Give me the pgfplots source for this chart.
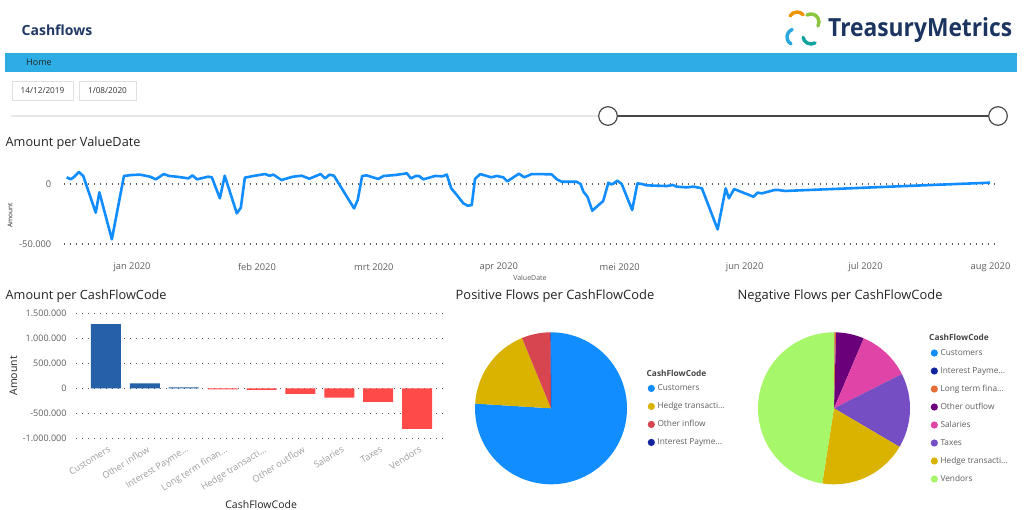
\documentclass[border=0pt]{standalone}
\usepackage{pgfplots}
\pgfplotsset{compat=1.18}
\usepackage{fontspec}
\setmainfont{Open Sans}

\definecolor{titletext}{HTML}{252423}
\definecolor{tickgray}{HTML}{605E5C}
\definecolor{lightlab}{HTML}{A19F9D}
\definecolor{navy}{HTML}{1F3864}
\definecolor{logonavy}{HTML}{1B3560}
\definecolor{band}{HTML}{2EADE4}
\definecolor{lineblue}{HTML}{118DFF}
\definecolor{barblue}{HTML}{2660A8}
\definecolor{barred}{HTML}{FF4A4A}
\definecolor{gridc}{HTML}{5A5A5A}
\definecolor{cCust}{HTML}{118DFF}
\definecolor{cInt}{HTML}{12239E}
\definecolor{cLT}{HTML}{E66C37}
\definecolor{cOO}{HTML}{6B007B}
\definecolor{cSal}{HTML}{E044A7}
\definecolor{cTax}{HTML}{744EC2}
\definecolor{cHedge}{HTML}{D9B300}
\definecolor{cOI}{HTML}{D64550}
\definecolor{cVend}{HTML}{A6F76A}
\definecolor{lgOrange}{HTML}{F39200}
\definecolor{lgGreen}{HTML}{8CC63F}
\definecolor{lgBlue}{HTML}{29A8E0}
\definecolor{lgTeal}{HTML}{0FA3A0}

% pie builder: list of value/colour/name, slices clockwise from 12 o'clock
\newcommand\buildpie[1]{%
  \gdef\piecmds{}\gdef\ptot{0}\gdef\pcum{90}%
  \foreach \pv/\pc/\pn in {#1}{\pgfmathsetmacro\ptmp{\ptot+\pv}\xdef\ptot{\ptmp}}%
  \foreach \pv/\pc/\pn in {#1}{%
    \pgfmathsetmacro\pspan{360*(\pv/\ptot)}%
    \pgfmathtruncatemacro\pnst{max(1,ceil(\pspan/3))}%
    \xdef\ppts{(0,0) (\pcum,1)}%
    \foreach \k in {1,...,\pnst}{%
      \pgfmathsetmacro\pang{\pcum-\pspan*(\k/\pnst)}%
      \xdef\ppts{\ppts\space(\pang,1)}}%
    \xdef\piecmds{\unexpanded\expandafter{\piecmds}\noexpand\addplot[fill=\pc,draw=none,data cs=polar] coordinates {\ppts};\noexpand\addlegendentry{\pn}}%
    \pgfmathsetmacro\ptmp{\pcum-\pspan}\xdef\pcum{\ptmp}%
  }%
}

\pgfplotsset{
  pie axis/.style={anchor=center, scale only axis, width=152pt, height=152pt,
    xmin=-1, xmax=1, ymin=-1, ymax=1, hide axis, clip=false,
    legend image code/.code={\fill (0pt,0pt) circle (3.6pt);},
    legend cell align=left,
    legend style={anchor=north west, draw=none, fill=none,
      font=\fontsize{8.3}{10}\selectfont, text=tickgray, row sep=9.5pt, inner sep=0pt,
      nodes={inner sep=0pt, text height=6.5pt, text depth=2pt},
      /tikz/every odd column/.style={column sep=2.6pt}}},
  dotgrid/.style={line width=1.1pt, dash pattern=on 1.1pt off 4.9pt, color=gridc}
}

\begin{document}
\begin{tikzpicture}[x=1pt,y=1pt]
\fill[white] (0,0) rectangle (1024,-509);

% ---------- header ----------
\node[anchor=west, inner sep=0pt, font=\bfseries\fontsize{14}{16}\selectfont, text=navy] at (21.5,-30) {Cashflows};
\begin{scope}[line width=3.4pt, line cap=round]
  \draw[lgOrange] (797,-20) ++(150:8) arc[start angle=150, end angle=40, radius=8];
  \draw[lgGreen] (811,-22) ++(120:8) arc[start angle=120, end angle=-30, radius=8];
  \draw[lgBlue] (795,-37) ++(240:8) arc[start angle=240, end angle=110, radius=8];
  \draw[lgTeal] (811,-36) ++(-60:8) arc[start angle=-60, end angle=-170, radius=8];
\end{scope}
\node[anchor=west, inner sep=0pt, text=logonavy] at (828,-30.5) {\resizebox{184pt}{19pt}{\bfseries TreasuryMetrics}};
\fill[band] (5,-52.5) rectangle (1017,-71.5);
\node[anchor=west, inner sep=0pt, font=\fontsize{9}{10}\selectfont, text=black!85] at (26,-62.5) {Home};
\draw[black!12, fill=white] (12,-81) rectangle (73,-100);
\draw[black!12, fill=white] (79,-81) rectangle (136,-100);
\node[font=\fontsize{8.2}{10}\selectfont, text=black!80] at (42.5,-90.5) {14/12/2019};
\node[font=\fontsize{8.2}{10}\selectfont, text=black!80] at (107.5,-90.5) {1/08/2020};
\draw[line width=2.6pt, black!9] (11,-116) -- (600,-116);
\draw[line width=2.6pt, black!72] (608,-116) -- (998,-116);
\draw[line width=1.2pt, black!70, fill=white] (608,-116) circle (9.3);
\draw[line width=1.2pt, black!70, fill=white] (998,-116) circle (9.3);

% ---------- line chart ----------
\node[anchor=west, inner sep=0pt, font=\fontsize{12.7}{14}\selectfont, text=titletext] at (5.5,-143) {Amount per ValueDate};
\begin{axis}[at={(63.5pt,-250pt)}, anchor=south west, scale only axis,
  width=931pt, height=90pt,
  xmin=-17, xmax=214, ymin=-55000, ymax=20000,
  scaled ticks=false,
  axis line style={draw=none}, tick style={draw=none},
  xtick={0,31,60,91,121,152,182,213},
  xticklabels={jan 2020,feb 2020,mrt 2020,apr 2020,mei 2020,jun 2020,jul 2020,aug 2020},
  ytick={-50000,0}, yticklabels={-50.000,0},
  ymajorgrids, grid style={dotgrid},
  tick label style={font=\fontsize{9.3}{11}\selectfont, text=tickgray},
  xticklabel style={anchor=center, inner sep=0pt, yshift=-17pt},
  yticklabel style={anchor=east, inner sep=0pt, xshift=-12pt},
  ylabel={Amount}, ylabel style={at={(axis description cs:-0.0575,0.389)}, anchor=center, font=\fontsize{6.5}{8}\selectfont, text=titletext},
  xlabel={ValueDate}, xlabel style={at={(axis description cs:0.501,-0.311)}, anchor=center, font=\fontsize{7}{8}\selectfont, text=tickgray},
  clip=false]
\addplot[color=lineblue, line width=2.6pt, line join=round, mark=none] coordinates {
(-16.2,5600) (-15.2,3900) (-14.3,6100) (-13.2,10000) (-12.1,6700) (-9.0,-23900) (-8.1,-6900)
(-5.0,-46100) (-2.0,6700) (-0.1,7500) (2.0,7800) (4.5,6100) (5.9,3900) (7.9,8300) (9.2,6700)
(11.1,6100) (14.0,4700) (15.0,7200) (16.1,3900) (18.9,6100) (19.8,5600) (21.8,-11900) (23.0,6900)
(26.0,-24400) (27.0,-19700) (28.0,5300) (30.1,6700) (33.0,8300) (34.1,6900) (35.1,7800) (37.1,3300)
(39.9,6100) (42.1,6900) (44.0,4400) (46.8,8300) (47.9,4700) (49.0,7800) (50.1,6900) (55.1,-20300)
(56.0,-13300) (57.1,6700) (58.2,7200) (61.1,4200) (62.4,6700) (65.3,7500) (68.2,8900) (69.2,4700)
(70.4,6700) (71.2,6700) (72.3,3900) (75.2,6700) (77.0,6400) (78.1,7800) (79.2,-3600) (80.6,-9200)
(82.2,-16100) (83.3,-18100) (84.3,-17500) (85.1,4200) (86.4,8300) (89.1,5600) (90.5,6700) (92.1,5600)
(93.1,2200) (96.0,8600) (97.3,5600) (99.2,8300) (104.1,8100) (105.4,3900) (106.6,1900) (110.3,1900)
(111.3,0) (112.0,-6400) (113.0,-10600) (114.2,-22200) (116.9,-14200) (118.2,1100) (118.9,-300)
(119.6,600) (120.4,2800) (121.5,0) (124.1,-21700) (125.4,600) (126.5,0) (127.7,-1100) (132.7,-1700)
(134.2,-800) (135.1,-2200) (137.6,-2800) (139.3,-2200) (141.4,-3600) (145.3,-37800) (147.3,-3600)
(148.1,-11900) (149.4,-4200) (152.1,-7800) (154.2,-10600) (155.2,-7200) (156.3,-7800) (159.4,-5000)
(160.4,-5000) (162.0,-5800) (188.1,-2200) (212.9,1100)};
\end{axis}

% ---------- bar chart ----------
\node[anchor=west, inner sep=0pt, font=\fontsize{12.7}{14}\selectfont, text=titletext] at (5.5,-296) {Amount per CashFlowCode};
\begin{axis}[at={(76pt,-438.3pt)}, anchor=south west, scale only axis,
  width=371pt, height=125pt,
  xmin=-0.77, xmax=8.77, ymin=-1000000, ymax=1500000,
  scaled ticks=false,
  ybar, bar width=30pt, bar shift=0pt,
  axis line style={draw=none}, tick style={draw=none},
  xtick={0,1,2,3,4,5,6,7,8},
  xticklabels={Customers,Other inflow,Interest Payme…,Long term finan…,Hedge transacti…,Other outflow,Salaries,Taxes,Vendors},
  ytick={-1000000,-500000,0,500000,1000000,1500000},
  yticklabels={-1.000.000,-500.000,0,500.000,1.000.000,1.500.000},
  ymajorgrids, grid style={dotgrid},
  yticklabel style={font=\fontsize{9}{11}\selectfont, text=tickgray, anchor=east, inner sep=0pt, xshift=-9.3pt},
  xticklabel style={font=\fontsize{9.2}{11}\selectfont, text=lightlab, rotate=32, anchor=north east, inner sep=0pt, yshift=-3pt},
  ylabel={Amount}, ylabel style={at={(axis description cs:-0.169,0.5)}, anchor=center, font=\fontsize{10.5}{12}\selectfont, text=titletext},
  xlabel={CashFlowCode}, xlabel style={at={(axis description cs:0.499,-0.53)}, anchor=center, font=\fontsize{10.5}{12}\selectfont, text=titletext},
  clip=false]
\addplot[fill=barblue, draw=none] coordinates {(0,1282000) (1,100000) (2,18000)};
\addplot[fill=barred, draw=none] coordinates {(3,-20000) (4,-30000) (5,-110000) (6,-187000) (7,-273000) (8,-813000)};
\end{axis}

% ---------- positive pie ----------
\node[anchor=west, inner sep=0pt, font=\fontsize{12.9}{14}\selectfont, text=titletext] at (455.5,-296) {Positive Flows per CashFlowCode};
\buildpie{1282/cCust/Customers, 300/cHedge/Hedge transacti…, 103/cOI/Other inflow, 2/cInt/Interest Payme…}
\begin{axis}[pie axis, at={(551pt,-408.3pt)}, legend style={at={(1.135,0.66)}}]
\piecmds
\end{axis}
\node[anchor=west, inner sep=0pt, font=\bfseries\fontsize{8.3}{10}\selectfont, text=titletext!85] at (646.5,-373) {CashFlowCode};

% ---------- negative pie ----------
\node[anchor=west, inner sep=0pt, font=\fontsize{12.9}{14}\selectfont, text=titletext] at (737.5,-296) {Negative Flows per CashFlowCode};
\buildpie{1.5/cInt/Interest Payme…, 6/cLT/Long term fina…, 102/cOO/Other outflow, 191/cSal/Salaries, 272/cTax/Taxes, 325/cHedge/Hedge transacti…, 813/cVend/Vendors}
\begin{axis}[pie axis, at={(834pt,-408.3pt)}, legend style={at={(1.135,0.893)}}]
\addlegendimage{fill=cCust, draw=none, color=cCust}\addlegendentry{Customers}
\piecmds
\end{axis}
\node[anchor=west, inner sep=0pt, font=\bfseries\fontsize{8.3}{10}\selectfont, text=titletext!85] at (929,-337.3) {CashFlowCode};

\pgfresetboundingbox
\useasboundingbox (0,0) rectangle (1024,-509);
\end{tikzpicture}
\end{document}
